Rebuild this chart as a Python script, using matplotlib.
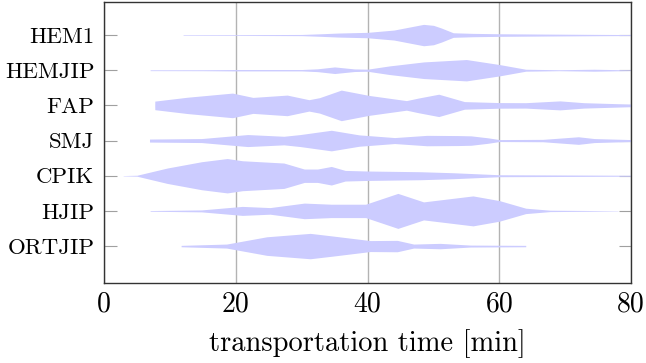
import numpy as np
import matplotlib
matplotlib.use('Agg')
import matplotlib.pyplot as plt

plt.rcParams['font.family'] = ['cmr10', 'DejaVu Serif']
plt.rcParams['mathtext.fontset'] = 'cm'
plt.rcParams['axes.formatter.use_mathtext'] = True

#
#  Data: violin outlines.
#  x = time [min], hw = half width of the violin (in row units).
#
categories = ['HEM1', 'HEMJIP', 'FAP', 'SMJ', 'CPIK', 'HJIP', 'ORTJIP']

hem1_x  = [12, 20, 30, 33, 35.5, 40, 44, 48.5, 50, 51.2, 53, 56, 60, 67, 74, 80]
hem1_hw = [0.009, 0.011, 0.017, 0.037, 0.057, 0.077, 0.142, 0.304, 0.276, 0.20,
           0.065, 0.048, 0.037, 0.028, 0.020, 0.014]

hemjip_x  = [7, 15, 20, 30, 32.4, 35, 38, 40, 43.3, 48.5, 55, 60, 64, 69, 74.4, 80]
hemjip_hw = [0.012, 0.014, 0.02, 0.02, 0.04, 0.094, 0.037, 0.03, 0.122, 0.236,
             0.304, 0.162, 0.028, 0.014, 0.028, 0.01]

fap_x  = [7.7, 7.71, 12.7, 19.5, 22.6, 27.8, 31.1, 32.7, 36, 40.2, 45.9, 47.7,
          50.8, 54.7, 60, 64, 69.2, 72.8, 80]
fap_hw = [0.0, 0.122, 0.233, 0.35, 0.227, 0.293, 0.162, 0.219, 0.435, 0.284,
          0.136, 0.208, 0.318, 0.108, 0.08, 0.077, 0.128, 0.077, 0.037]

smj_x  = [6.9, 6.91, 14.8, 21.8, 27.3, 29.8, 34.5, 38.7, 44.1, 49, 53.7, 55.7,
          58.3, 60, 66.6, 72, 74.4, 80]
smj_hw = [0.0, 0.043, 0.057, 0.171, 0.122, 0.171, 0.293, 0.162, 0.085, 0.148,
          0.142, 0.134, 0.077, 0.028, 0.034, 0.108, 0.057, 0.028]

cpik_x  = [2.9, 5, 9.6, 14.8, 18.7, 21, 27.3, 30.4, 32.4, 34.5, 36.6, 40, 48,
           53, 60, 71.8, 80]
cpik_hw = [0.005, 0.014, 0.219, 0.398, 0.489, 0.426, 0.361, 0.19, 0.19, 0.264,
           0.151, 0.134, 0.114, 0.085, 0.028, 0.02, 0.014]

hjip_x  = [7, 14.8, 21, 25.2, 30.4, 34.5, 39.7, 44.6, 48.5, 56, 60, 64, 67.7, 78]
hjip_hw = [0.01, 0.028, 0.128, 0.094, 0.222, 0.19, 0.19, 0.498, 0.256, 0.426,
           0.293, 0.077, 0.02, 0.005]

ortjip_x  = [11.7, 18.6, 24.7, 31.3, 34.8, 40.4, 44.5, 47, 51, 55.6, 64, 64.01]
ortjip_hw = [0.02, 0.057, 0.264, 0.361, 0.284, 0.156, 0.162, 0.057, 0.077,
             0.028, 0.02, 0.0]

xs  = [hem1_x, hemjip_x, fap_x, smj_x, cpik_x, hjip_x, ortjip_x]
hws = [hem1_hw, hemjip_hw, fap_hw, smj_hw, cpik_hw, hjip_hw, ortjip_hw]

xticks = [0, 20, 40, 60, 80]

#
#  Plot.
#
fig = plt.figure(figsize=(6.46, 3.63), dpi=100)
ax = fig.add_axes([0.161, 0.2204, 0.816, 0.7741])

n = len(categories)
pos = [n - 1 - i for i in range(n)]
for i in range(n):
    x  = np.array(xs[i])
    hw = np.array(hws[i])
    ax.fill_between(x, pos[i] - hw, pos[i] + hw, color='#ccccff',
                    linewidth=0, zorder=2)

ax.set_xlim(0, 80)
ax.set_ylim(-1.05, 6.94)

ax.set_xticks(xticks)
ax.set_xticklabels([str(t) for t in xticks], fontsize=20)
ax.set_yticks(pos)
ax.set_yticklabels(categories, fontsize=16.5)

ax.grid(axis='x', color='#b3b3b3', linewidth=1.0, zorder=1)
ax.tick_params(axis='y', direction='in', length=9, color='#a0a0a0',
               right=True, width=0.8, pad=7)
ax.tick_params(axis='x', direction='in', length=0, pad=6)

for s in ax.spines.values():
    s.set_color('#333333')
    s.set_linewidth(1.0)
    s.set_zorder(3)

ax.set_xlabel('transportation time [min]', fontsize=20.5, labelpad=8)

fig.savefig('out.png', dpi=100)
